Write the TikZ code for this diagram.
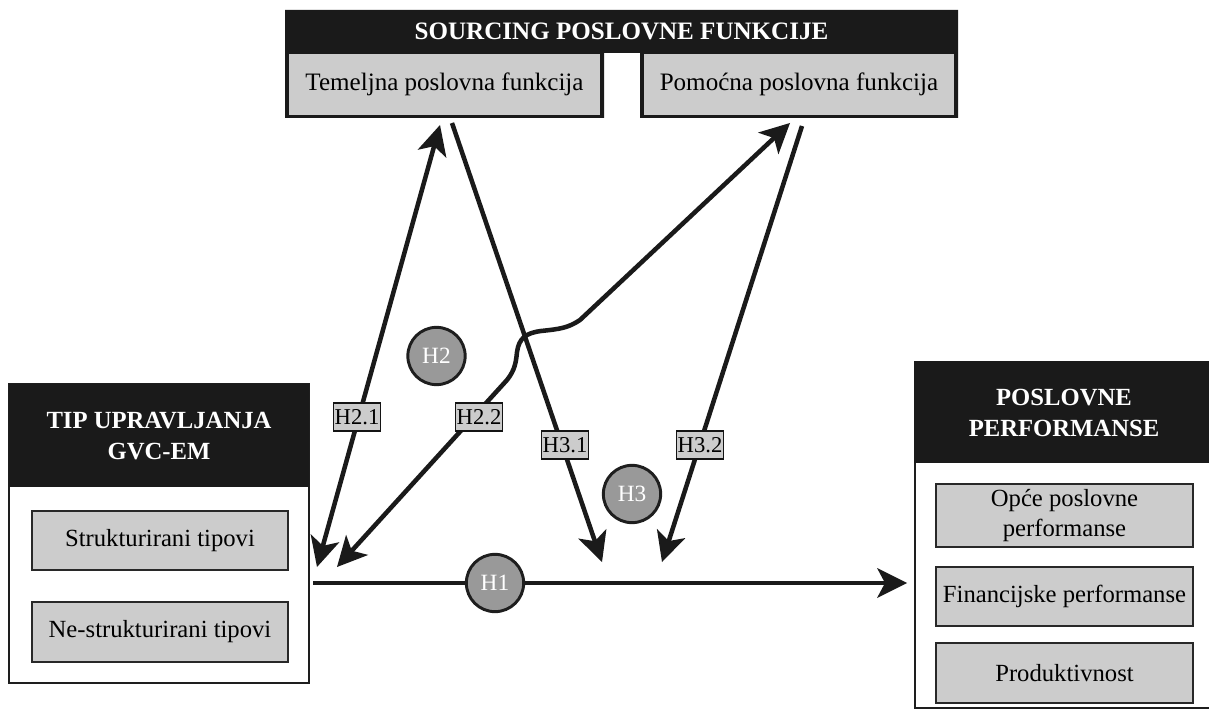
\documentclass[tikz,border=0pt]{standalone}
\usepackage{fontspec}
\setmainfont{Liberation Serif}
\tikzset{every picture/.style={line width=0.75pt}}
\tikzset{
  grayfill/.style={draw={rgb, 255:red, 40; green, 40; blue, 40 }, line width=1.5pt, fill={rgb, 255:red, 204; green, 204; blue, 204 }},
  conn/.style={draw={rgb, 255:red, 26; green, 26; blue, 26 }, line width=3.4pt, line join=round},
  hyp/.style={circle, draw={rgb, 255:red, 30; green, 30; blue, 30 }, fill={rgb, 255:red, 153; green, 153; blue, 153 }, line width=2.2pt, minimum size=43pt, inner sep=0pt, text=white, font=\fontsize{17.5}{20}\selectfont},
  hlabel/.style={draw={rgb, 255:red, 20; green, 20; blue, 20 }, fill={rgb, 255:red, 204; green, 204; blue, 204 }, line width=1.1pt, minimum width=35pt, minimum height=21pt, inner sep=1pt, font=\fontsize{17}{19}\selectfont},
  headtxt/.style={text=white, align=center, font=\fontsize{18.5}{23}\selectfont\bfseries},
  boxtxt/.style={align=center, font=\fontsize{18.5}{22.5}\selectfont}
}
\begin{document}
\begin{tikzpicture}[x=0.75pt,y=0.75pt,yscale=-1,xscale=1]
	\path [use as bounding box] (0,0) rectangle (1209,716);

	%Shape: Sourcing frame
	\draw  [draw opacity=0][fill={rgb, 255:red, 26; green, 26; blue, 26 }  ,fill opacity=1 ] (285,10) -- (958,10) -- (958,118) -- (640,118) -- (640,53) -- (604,53) -- (604,118) -- (285,118) -- cycle ;
	\draw  [draw opacity=0][fill={rgb, 255:red, 204; green, 204; blue, 204 }  ,fill opacity=1 ] (289,54) -- (600,54) -- (600,115) -- (289,115) -- cycle ;
	\draw  [draw opacity=0][fill={rgb, 255:red, 204; green, 204; blue, 204 }  ,fill opacity=1 ] (644,54) -- (954,54) -- (954,115) -- (644,115) -- cycle ;
	%Shape: Upravljanje frame
	\draw  [draw={rgb, 255:red, 30; green, 30; blue, 30 }  ,line width=1.5pt ,fill=white ] (9,384) -- (309,384) -- (309,683) -- (9,683) -- cycle ;
	\draw  [draw opacity=0][fill={rgb, 255:red, 26; green, 26; blue, 26 }  ,fill opacity=1 ] (9,384) -- (309,384) -- (309,487) -- (9,487) -- cycle ;
	\draw  [grayfill] (32,511) -- (288,511) -- (288,570) -- (32,570) -- cycle ;
	\draw  [grayfill] (32,602) -- (288,602) -- (288,662) -- (32,662) -- cycle ;
	%Shape: Performanse frame
	\draw  [draw={rgb, 255:red, 30; green, 30; blue, 30 }  ,line width=2pt ] (1215,708) -- (915,708) -- (915,361) ;
	\draw  [draw opacity=0][fill={rgb, 255:red, 26; green, 26; blue, 26 }  ,fill opacity=1 ] (914,361) -- (1215,361) -- (1215,463) -- (914,463) -- cycle ;
	\draw  [grayfill] (936,484) -- (1193,484) -- (1193,547) -- (936,547) -- cycle ;
	\draw  [grayfill] (936,567) -- (1193,567) -- (1193,626) -- (936,626) -- cycle ;
	\draw  [grayfill] (936,643) -- (1193,643) -- (1193,703) -- (936,703) -- cycle ;

	% Text Node
	\draw (621.5,31.5) node (srcT) [headtxt, font=\fontsize{18.8}{23}\selectfont\bfseries] {SOURCING POSLOVNE FUNKCIJE};
	\draw (444.5,84.5) node (temT) [boxtxt, font=\fontsize{18.8}{23}\selectfont] {Temeljna poslovna funkcija};
	\draw (799,84.5) node (pomT) [boxtxt, font=\fontsize{18.8}{23}\selectfont] {Pomoćna poslovna funkcija};
	\draw (159,436) node (gvcT) [headtxt] {TIP UPRAVLJANJA\\GVC-EM};
	\draw (160,540.5) node (strT) [boxtxt] {Strukturirani tipovi};
	\draw (160,632) node (nstrT) [boxtxt] {Ne-strukturirani tipovi};
	\draw (1064,413) node (perfT) [headtxt] {POSLOVNE\\PERFORMANSE};
	\draw (1064.5,515.5) node (opceT) [boxtxt] {Opće poslovne\\performanse};
	\draw (1064.5,596.5) node (finT) [boxtxt] {Financijske performanse};
	\draw (1064.5,673) node (prodT) [boxtxt] {Produktivnost};

	% Arrow ends
	\coordinate (h1s) at (313,583);
	\coordinate (h1e) at (907,583);
	\coordinate (h21t) at (440,125);
	\coordinate (h21b) at (317,567);
	\coordinate (h22b) at (337,567);
	\coordinate (h22m) at (507,380);
	\coordinate (h22k) at (580,320);
	\coordinate (h22t) at (790,123);
	\coordinate (h31s) at (452,123);
	\coordinate (h31e) at (602,562);
	\coordinate (h32s) at (802,126);
	\coordinate (h32e) at (662,562);

	%Straight Lines H1
	\draw [conn, shorten >=15pt] (h1s) -- (h1e) ;
	\draw [shift={(907,583)}, rotate = 180] [fill={rgb, 255:red, 26; green, 26; blue, 26 }  ][line width=0.08]  [draw opacity=0] (30,-15) -- (0,0) -- (30,15) -- (22,0) -- cycle    ;
	%Straight Lines H2.1
	\draw [conn, shorten <=15pt, shorten >=15pt] (h21b) -- (h21t) ;
	\draw [shift={(440,125)}, rotate = 105.55] [fill={rgb, 255:red, 26; green, 26; blue, 26 }  ][line width=0.08]  [draw opacity=0] (30,-15) -- (0,0) -- (30,15) -- (22,0) -- cycle    ;
	\draw [shift={(317,567)}, rotate = 285.55] [fill={rgb, 255:red, 26; green, 26; blue, 26 }  ][line width=0.08]  [draw opacity=0] (30,-15) -- (0,0) -- (30,15) -- (22,0) -- cycle    ;
	%Curve Lines H2.2
	\draw [conn, shorten <=15pt, shorten >=15pt] (h22b) -- (h22m) .. controls (515,370) and (516,362) .. (517,352) .. controls (519,338) and (526,333) .. (541,331) .. controls (560,329) and (568,328) .. (h22k) -- (h22t) ;
	\draw [shift={(337,567)}, rotate = 312.3] [fill={rgb, 255:red, 26; green, 26; blue, 26 }  ][line width=0.08]  [draw opacity=0] (30,-15) -- (0,0) -- (30,15) -- (22,0) -- cycle    ;
	\draw [shift={(790,123)}, rotate = 136.8] [fill={rgb, 255:red, 26; green, 26; blue, 26 }  ][line width=0.08]  [draw opacity=0] (30,-15) -- (0,0) -- (30,15) -- (22,0) -- cycle    ;
	%Straight Lines H3.1
	\draw [conn, shorten >=15pt] (h31s) -- (h31e) ;
	\draw [shift={(602,562)}, rotate = 251.1] [fill={rgb, 255:red, 26; green, 26; blue, 26 }  ][line width=0.08]  [draw opacity=0] (30,-15) -- (0,0) -- (30,15) -- (22,0) -- cycle    ;
	%Straight Lines H3.2
	\draw [conn, shorten >=15pt] (h32s) -- (h32e) ;
	\draw [shift={(662,562)}, rotate = 287.8] [fill={rgb, 255:red, 26; green, 26; blue, 26 }  ][line width=0.08]  [draw opacity=0] (30,-15) -- (0,0) -- (30,15) -- (22,0) -- cycle    ;

	% Hypothesis labels
	\node [hlabel] (l21) at (357,417) {H2.1};
	\node [hlabel] (l22) at (479,417) {H2.2};
	\node [hlabel] (l31) at (565,445) {H3.1};
	\node [hlabel] (l32) at (700,445) {H3.2};
	\node [hyp] (h1) at (495,583) {H1};
	\node [hyp] (h2) at (436.5,356) {H2};
	\node [hyp] (h3) at (632,494) {H3};

\end{tikzpicture}
\end{document}
